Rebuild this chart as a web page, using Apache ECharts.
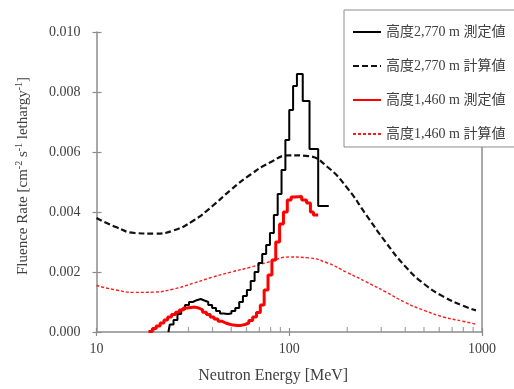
<!DOCTYPE html>
<html>
<head>
<meta charset="utf-8">
<script src="https://cdn.jsdelivr.net/npm/echarts@6/dist/echarts.min.js"></script>
<style>
html, body { margin: 0; padding: 0; background: #fff; }
#chart { width: 514px; height: 389px; }
</style>
</head>
<body>
<div id="chart"></div>
<script>
const seriesNames = [
    "高度2,770 m 測定値",
    "高度2,770 m 計算値",
    "高度1,460 m 測定値",
    "高度1,460 m 計算値",
];

// 測定値: bin lower edge [MeV] and fluence rate of that bin (last entry closes the histogram)
const meas2770E = [23.6, 24.0, 25.1, 26.3, 27.5, 28.8, 30.2, 31.6, 33.1, 34.7, 36.3, 38.0, 39.8, 41.7, 43.7, 45.7, 47.9, 50.1, 52.5, 55.0,
    57.5, 60.3, 63.1, 66.1, 69.2, 72.4, 75.9, 79.4, 83.2, 87.1, 91.2, 95.5, 100.0, 104.7, 109.6, 117.5, 127.4, 141.3, 160.3];
const meas2770V = [0, 0.00025, 0.0004, 0.0006, 0.00075, 0.0009, 0.001, 0.00106, 0.0011, 0.00105, 0.001, 0.0009, 0.0008, 0.0007, 0.00062, 0.0006, 0.00062, 0.0007, 0.0008, 0.001,
    0.0012, 0.0014, 0.0017, 0.002, 0.0023, 0.0026, 0.0029, 0.0033, 0.0039, 0.0046, 0.0054, 0.0064, 0.0074, 0.0082, 0.0086, 0.0077, 0.0061, 0.0042, 0.0042];

const meas1460E = [18.6, 19.5, 20.4, 21.4, 22.4, 23.4, 24.5, 25.7, 26.9, 28.2, 29.5, 30.9, 32.4, 33.9, 35.5, 37.2, 38.9, 40.7, 42.7, 44.7, 46.8, 49.0,
    51.3, 53.7, 56.2, 58.9, 61.7, 64.6, 67.6, 70.8, 74.1, 77.6, 81.3, 85.1, 89.1, 93.3, 97.7, 102.3, 107.2, 116.1, 123.0, 128.8, 133.4, 141.3];
const meas1460V = [0.00002, 0.00012, 0.0002, 0.0003, 0.0004, 0.0005, 0.00058, 0.00066, 0.00073, 0.0008, 0.00082, 0.00083, 0.0008, 0.00074, 0.00066, 0.00058, 0.0005, 0.00043, 0.00036, 0.0003, 0.00026, 0.00023,
    0.00022, 0.00022, 0.00025, 0.0003, 0.00038, 0.0005, 0.00065, 0.0009, 0.0014, 0.0019, 0.0024, 0.003, 0.0036, 0.004, 0.0044, 0.0045, 0.00452, 0.0044, 0.0043, 0.004, 0.0039, 0.0039];

// 計算値 (read at roughly even steps on the log axis)
const calcE = [10, 12.6, 15.8, 20, 25, 31.6, 40, 50, 63, 79, 100, 126, 158, 200, 251, 316, 398, 501, 631, 794, 930];
const calc2770V = [0.0038, 0.0035, 0.0033, 0.00328, 0.00338, 0.0037, 0.0042, 0.00475, 0.00525, 0.00564, 0.00589, 0.00586, 0.0055,
    0.0048, 0.0039, 0.003, 0.0022, 0.0016, 0.00118, 0.00088, 0.00072];
const calc1460V = [0.00155, 0.0014, 0.00132, 0.00133, 0.00143, 0.00162, 0.00183, 0.002, 0.00216, 0.00234, 0.0025, 0.00247, 0.0023,
    0.00198, 0.00167, 0.00134, 0.00099, 0.00072, 0.0005, 0.00036, 0.00026];

// log axis minor tick positions
const minorTickValues = [20, 30, 40, 50, 60, 70, 80, 90, 200, 300, 400, 500, 600, 700, 800, 900];

const zip = (xs, ys) => xs.map((x, i) => [x, ys[i]]);

const fontSerif = "'Liberation Serif', 'Noto Sans CJK JP', serif";
const textColor = "#404040";
const axisColor = "#8c8c8c";

const option = {
    animation: false,
    textStyle: { fontFamily: fontSerif },
    grid: { left: 96.5, right: 32, top: 32, bottom: 54 },
    legend: {
        data: seriesNames,
        orient: "vertical",
        left: 344,
        top: 10,
        padding: [15, 40, 6, 8],
        itemGap: 20,
        itemWidth: 28,
        itemHeight: 14,
        backgroundColor: "#fff",
        borderColor: "#8c8c8c",
        borderWidth: 1,
        selectedMode: false,
        itemStyle: { opacity: 0 },
        textStyle: { fontFamily: fontSerif, fontSize: 14, color: textColor },
    },
    xAxis: [
        {
            type: "log",
            logBase: 10,
            min: 10,
            max: 1000,
            name: "Neutron Energy [MeV]",
            nameLocation: "middle",
            nameGap: 36,
            nameTextStyle: { fontFamily: fontSerif, fontSize: 16, color: textColor, padding: [0, 32, 0, 0] },
            axisLine: { lineStyle: { color: axisColor, width: 1.5 } },
            axisTick: { inside: false, length: 4, lineStyle: { color: axisColor, width: 1.2 } },
            axisLabel: {
                margin: 10,
                fontSize: 14,
                color: textColor,
                formatter: (v) => String(Math.round(v)),
            },
            splitLine: { show: false },
        },
        {
            // inner half of the major ticks
            type: "log",
            logBase: 10,
            min: 10,
            max: 1000,
            position: "bottom",
            axisLine: { show: false },
            axisTick: { inside: true, length: 4, lineStyle: { color: axisColor, width: 1.2 } },
            axisLabel: { show: false },
            splitLine: { show: false },
        },
    ],
    yAxis: [
        {
            type: "value",
            min: 0,
            max: 0.01,
            interval: 0.002,
            position: "left",
            name: "Fluence Rate [cm{s|-2} s{s|-1} lethargy{s|-1}]",
            nameLocation: "middle",
            nameGap: 64,
            nameTextStyle: {
                fontFamily: fontSerif,
                fontSize: 15,
                lineHeight: 18,
                color: textColor,
                padding: [0, 0, 0, 12],
                rich: {
                    s: { fontFamily: fontSerif, fontSize: 10, lineHeight: 18, verticalAlign: "top", color: textColor, padding: [0, 0, 6, 0] },
                },
            },
            axisLine: { show: true, lineStyle: { color: axisColor, width: 1.5 } },
            axisTick: { show: true, inside: false, length: 4, lineStyle: { color: axisColor, width: 1.2 } },
            axisLabel: {
                margin: 16,
                fontSize: 14,
                color: textColor,
                formatter: (v) => v.toFixed(3),
            },
            splitLine: { show: false },
        },
        {
            type: "value",
            min: 0,
            max: 0.01,
            interval: 0.002,
            position: "left",
            axisLine: { show: false },
            axisTick: { show: true, inside: true, length: 5, lineStyle: { color: axisColor, width: 1.2 } },
            axisLabel: { show: false },
            splitLine: { show: false },
        },
        {
            // right frame line
            type: "value",
            min: 0,
            max: 0.01,
            interval: 0.002,
            position: "right",
            axisLine: { show: true, lineStyle: { color: axisColor, width: 1.5 } },
            axisTick: { show: false },
            axisLabel: { show: false },
            splitLine: { show: false },
        },
    ],
    series: [
        {
            name: "minorTicks",
            type: "scatter",
            silent: true,
            symbol: "rect",
            symbolSize: [1.2, 5],
            symbolOffset: [0, -2.5],
            itemStyle: { color: axisColor },
            data: minorTickValues.map((v) => [v, 0]),
            z: 1,
        },
        {
            name: seriesNames[1],
            type: "line",
            smooth: 0.5,
            symbol: "none",
            lineStyle: { color: "#111", width: 2.2, type: [6, 3] },
            itemStyle: { color: "#111" },
            data: zip(calcE, calc2770V),
        },
        {
            name: seriesNames[3],
            type: "line",
            smooth: 0.5,
            symbol: "none",
            lineStyle: { color: "#ff1a1a", width: 1.4, type: [3, 2] },
            itemStyle: { color: "#ff1a1a" },
            data: zip(calcE, calc1460V),
        },
        {
            name: seriesNames[0],
            type: "line",
            step: "end",
            symbol: "none",
            lineStyle: { color: "#000", width: 2 },
            itemStyle: { color: "#000" },
            data: zip(meas2770E, meas2770V),
        },
        {
            name: seriesNames[2],
            type: "line",
            step: "end",
            symbol: "none",
            lineStyle: { color: "#ff0000", width: 3 },
            itemStyle: { color: "#ff0000" },
            data: zip(meas1460E, meas1460V),
        },
    ],
};

const chart = echarts.init(document.getElementById("chart"), null, { renderer: "canvas" });
chart.setOption(option);
</script>
</body>
</html>
